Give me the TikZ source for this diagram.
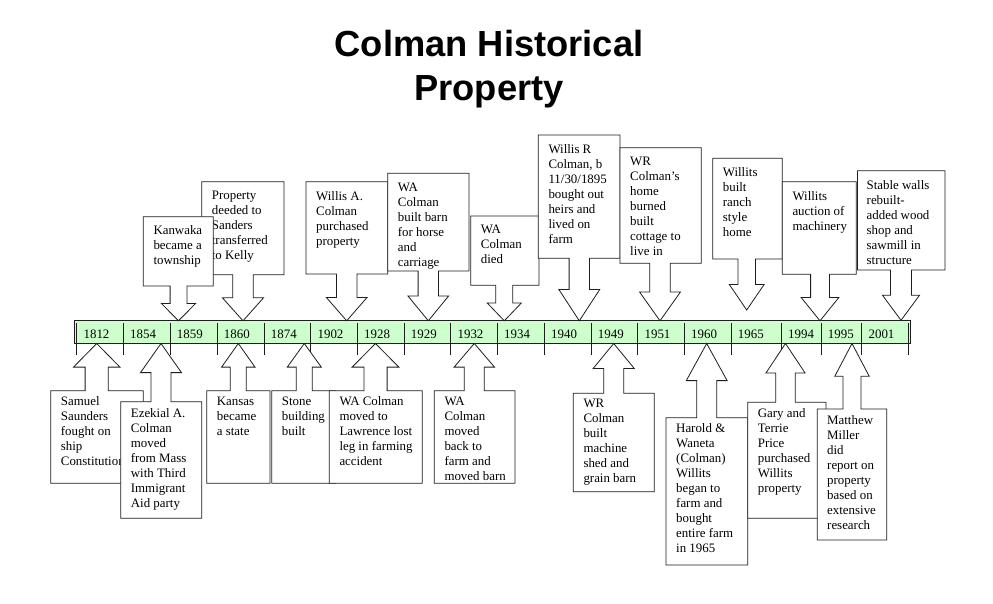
\documentclass[tikz,border=0pt]{standalone}
\usepackage{fontspec}
\setmainfont{Liberation Serif}
\newfontfamily\titlefont{Liberation Sans}
\definecolor{barfill}{RGB}{204,255,204}
\definecolor{inkline}{RGB}{30,30,30}
% box above bar, arrow pointing down: x1,y1,x2,y2,tipx,tipy,stem half width,head half width
\newcommand{\downcall}[8]{%
  \pgfmathsetmacro{\cyM}{(#4+#6)/2}%
  \pgfmathsetmacro{\cxSL}{#5-#7}\pgfmathsetmacro{\cxSR}{#5+#7}%
  \pgfmathsetmacro{\cxHL}{#5-#8}\pgfmathsetmacro{\cxHR}{#5+#8}%
  \draw[callout] (#1,#2) -- (#3,#2) -- (#3,#4) -- (\cxSR,#4) -- (\cxSR,\cyM) -- (\cxHR,\cyM)
     -- (#5,#6) -- (\cxHL,\cyM) -- (\cxSL,\cyM) -- (\cxSL,#4) -- (#1,#4) -- cycle;}
% box below bar, arrow pointing up
\newcommand{\upcall}[8]{%
  \pgfmathsetmacro{\cyM}{(#2+#6)/2}%
  \pgfmathsetmacro{\cxSL}{#5-#7}\pgfmathsetmacro{\cxSR}{#5+#7}%
  \pgfmathsetmacro{\cxHL}{#5-#8}\pgfmathsetmacro{\cxHR}{#5+#8}%
  \draw[callout] (#1,#2) -- (\cxSL,#2) -- (\cxSL,\cyM) -- (\cxHL,\cyM) -- (#5,#6)
     -- (\cxHR,\cyM) -- (\cxSR,\cyM) -- (\cxSR,#2) -- (#3,#2) -- (#3,#4) -- (#1,#4) -- cycle;}
\begin{document}
\begin{tikzpicture}[x=1pt,y=-1pt,
  callout/.style={draw=inkline, fill=white, line width=0.8pt, line join=miter},
  txt/.style={anchor=north west, inner sep=0pt, align=left, font=\fontsize{12.9}{15}\selectfont},
  yr/.style={anchor=base west, inner sep=0pt, font=\fontsize{12.9}{15}\selectfont},
  titletext/.style={anchor=north, inner sep=0pt, align=center, font=\titlefont\bfseries\fontsize{36.3}{44}\selectfont},
  barline/.style={draw=inkline, line width=0.8pt}]
\useasboundingbox (0,0) rectangle (993,604);
\fill[white] (0,0) rectangle (993,604);

% title
\node[titletext] (title) at (489,29.6) {Colman Historical\\Property};

% timeline bar
\draw[barline, fill=barfill] (74,320) rectangle (910.7,343.3);
\foreach \x/\yr in {76.7/1812, 123.3/1854, 170/1859, 217/1860, 264/1874, 310.7/1902,
    357.3/1928, 404/1929, 450.7/1932, 497.3/1934, 544.3/1940, 591/1949, 637.7/1951,
    684.3/1960, 731/1965, 781.3/1994, 821/1995, 861.7/2001} {
  \draw[barline] (\x,323) -- (\x,355);
  \node[yr] (y\yr) at (\x+6.7,338.3) {\yr};
}
\draw[barline] (908.3,323) -- (908.3,355);

% ---------- callouts above the bar ----------
\downcall{201.7}{181.7}{284}{274.7}{243}{320.8}{10.3}{20.6}
\node[txt] (deeded) at (211.7,190.9) {Property\\deeded to\\Sanders\\transferred\\to Kelly};
\downcall{143.3}{216.7}{213.3}{286}{178.5}{320.8}{8.4}{17.2}
\node[txt] (kanwaka) at (153.3,225.5) {Kanwaka\\became a\\township};
\downcall{306}{181.7}{387.7}{274}{346.7}{320.8}{10.2}{20.4}
\node[txt] (willisa) at (316,190.9) {Willis A.\\Colman\\purchased\\property};
\downcall{387.7}{173.3}{469}{271}{428.3}{320.8}{10.2}{20.4}
\node[txt] (barn) at (397.7,182.6) {WA\\Colman\\built barn\\for horse\\and\\carriage};
\downcall{470.7}{216}{539}{285.3}{504.3}{320.8}{8.5}{17}
\node[txt] (died) at (480.7,225.2) {WA\\Colman\\died};
\downcall{538.3}{135}{620}{258.3}{579.3}{320.8}{10.2}{20.4}
\node[txt] (willisr) at (548.3,144.6) {Willis R\\Colman, b\\11/30/1895\\bought out\\heirs and\\lived on\\farm};
\downcall{620}{147.7}{701.3}{263.3}{660}{320.8}{10.2}{20.4}
\node[txt] (wrhome) at (630,156.8) {WR\\Colman’s\\home\\burned\\built\\cottage to\\live in};
\downcall{712.7}{158.3}{782.3}{259}{746.7}{310}{8.7}{17.4}
\node[txt] (ranch) at (722.7,167.5) {Willits\\built\\ranch\\style\\home};
\downcall{782.3}{181.7}{856.2}{274.3}{820}{320.8}{9.4}{18.8}
\node[txt] (auction) at (792.3,190.9) {Willits\\auction of\\machinery};
\downcall{857.5}{170.7}{945}{270}{901}{320.3}{10.5}{18.6}
\node[txt] (stable) at (866.5,180.3) {Stable walls\\rebuilt-\\added wood\\shop and\\sawmill in\\structure};

% ---------- callouts below the bar ----------
\upcall{50.7}{390.7}{143.3}{483.3}{96.7}{343.5}{11.6}{23.2}
\node[txt] (samuel) at (60.7,396.6) {Samuel\\Saunders\\fought on\\ship\\Constitution};
\upcall{120.7}{401.7}{201.7}{518.3}{161}{343.5}{10}{20.5}
\node[txt] (ezekial) at (130.7,407.9) {Ezekial A.\\Colman\\moved\\from Mass\\with Third\\Immigrant\\Aid party};
\upcall{206.7}{390.7}{270}{483.3}{238.3}{343.5}{8}{16.7}
\node[txt] (kansas) at (216.7,396.8) {Kansas\\became\\a state};
\upcall{271.7}{390.7}{336}{483.3}{304.3}{343.5}{8}{17}
\node[txt] (stone) at (281.7,396.6) {Stone\\building\\built};
\upcall{329.3}{390.7}{422.3}{483.3}{375.5}{343.5}{11.6}{23.3}
\node[txt] (lawrence) at (339.3,396.1) {WA Colman\\moved to\\Lawrence lost\\leg in farming\\accident};
\upcall{434.3}{390.7}{515}{483.3}{474.3}{343.5}{10}{20.2}
\node[txt] (movedback) at (444.3,396.6) {WA\\Colman\\moved\\back to\\farm and\\moved barn};
\upcall{573.3}{393.3}{654.3}{491.7}{613.7}{343.5}{10}{20.5}
\node[txt] (machine) at (583.3,399) {WR\\Colman\\built\\machine\\shed and\\grain barn};
\upcall{666}{417.7}{747.7}{565}{706.7}{343.5}{10}{20.4}
\node[txt] (harold) at (676,423.3) {Harold \&\\Waneta\\(Colman)\\Willits\\began to\\farm and\\bought\\entire farm\\in 1965};
\upcall{747.7}{402.3}{826}{518.3}{785.5}{343.5}{9.8}{19.5}
\node[txt] (gary) at (757.7,408.6) {Gary and\\Terrie\\Price\\purchased\\Willits\\property};
\upcall{817.3}{409}{886.7}{540}{852}{343.5}{9}{17.2}
\node[txt] (matthew) at (827,415.1) {Matthew\\Miller\\did\\report on\\property\\based on\\extensive\\research};
\end{tikzpicture}
\end{document}
